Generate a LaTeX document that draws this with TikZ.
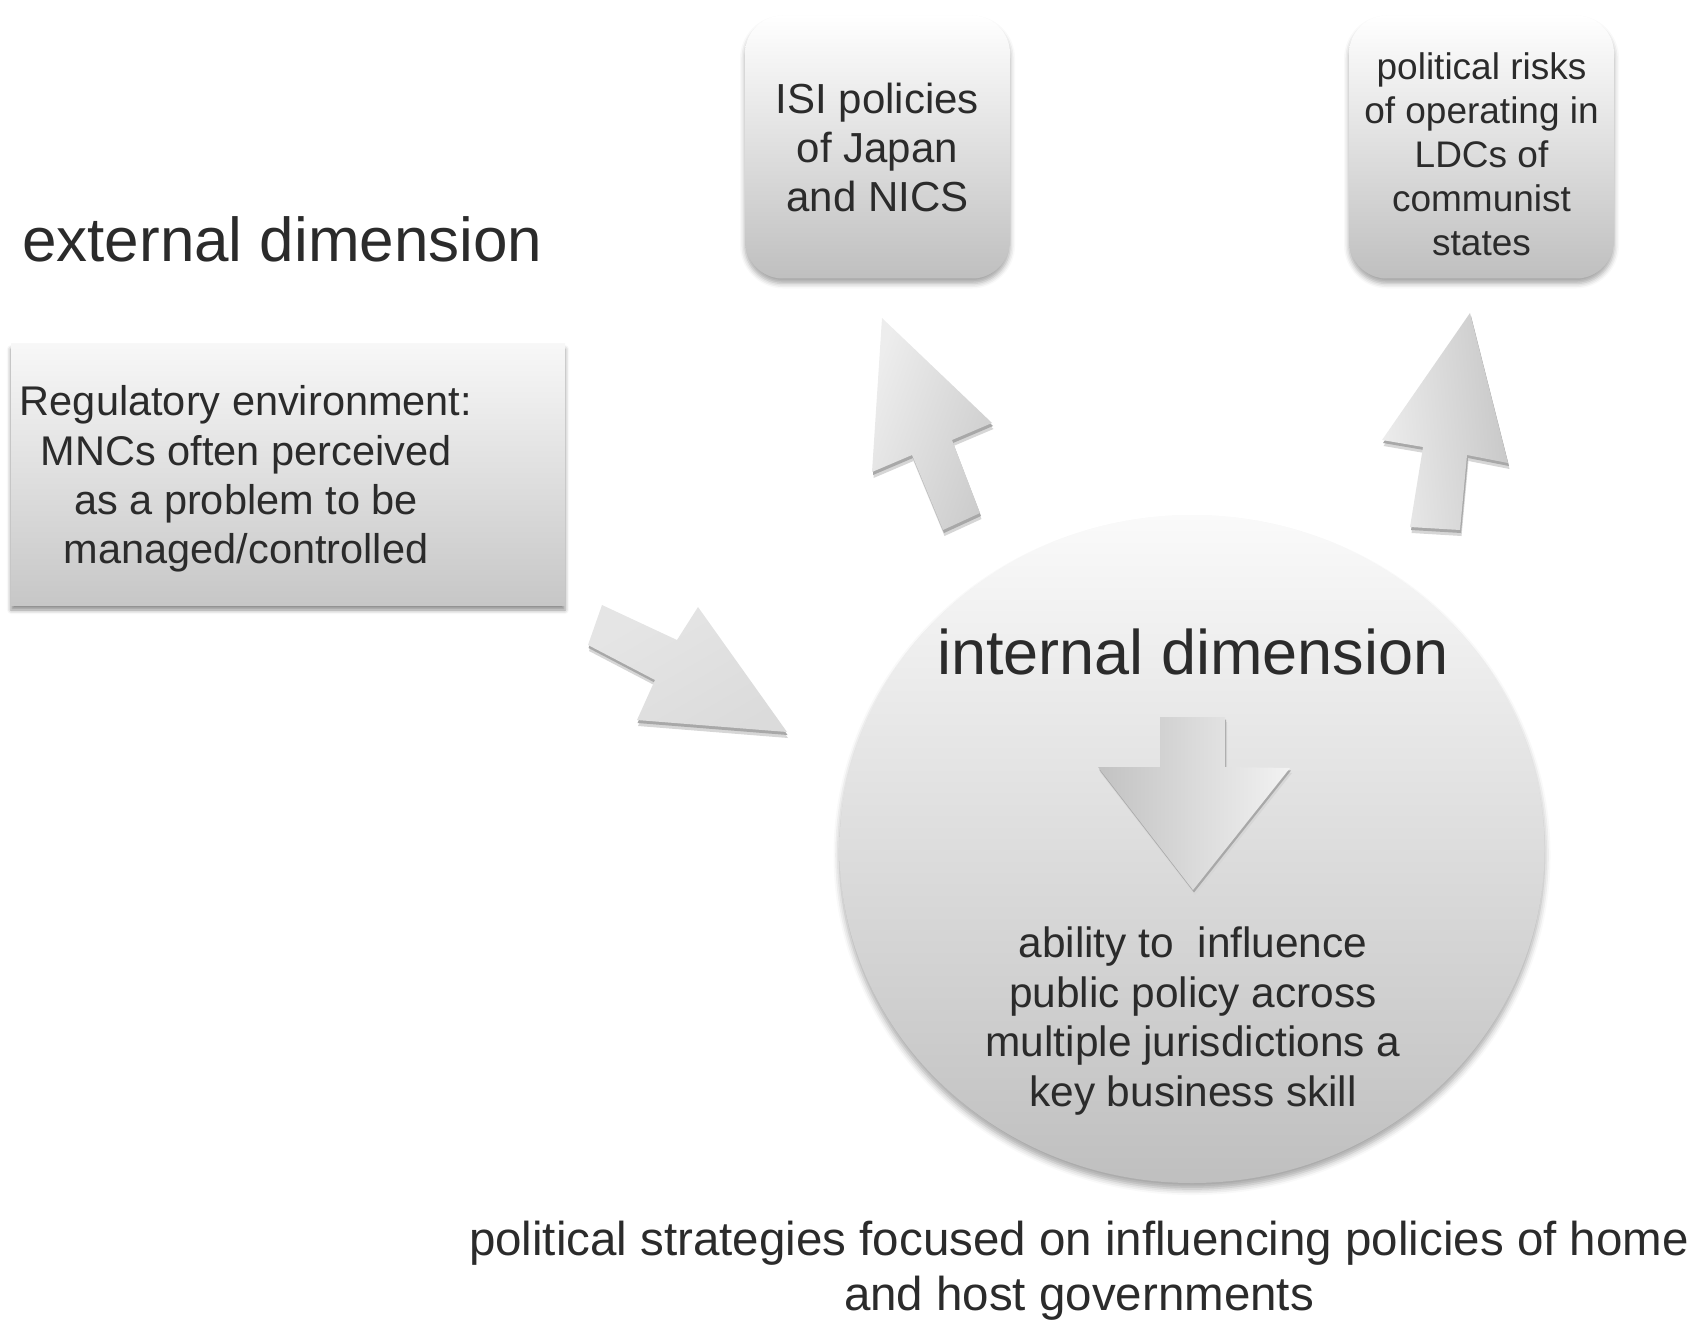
\documentclass[tikz,border=0pt]{standalone}
\usepackage{fontspec}
\setmainfont{Liberation Sans}
\usetikzlibrary{shapes.geometric,shadows,shadows.blur}

\definecolor{ink}{gray}{0.17}

\begin{document}
\begin{tikzpicture}[x=1pt,y=-1pt,
  label/.style={text=ink, align=center, inner sep=0pt},
  card/.style={rounded corners=38pt, top color=white, bottom color=black!25,
    minimum width=265pt, minimum height=263pt, inner sep=0pt, text=ink, align=center,
    blur shadow={shadow xshift=0pt, shadow yshift=-5pt, shadow blur radius=5pt, shadow opacity=35}},
  slab/.style={top color=black!3, bottom color=black!22,
    blur shadow={shadow xshift=0pt, shadow yshift=-5pt, shadow blur radius=4pt, shadow opacity=45}},
  disc/.style={ellipse, top color=black!2, bottom color=black!25, inner sep=0pt,
    blur shadow={shadow xshift=0pt, shadow yshift=-6pt, shadow blur radius=6pt, shadow opacity=35}},
  rimfar/.style={fill=black!16},
  rimnear/.style={fill=black!34},
]
\useasboundingbox (0,0) rectangle (1694,1321);

% outer context
\node[label, anchor=base west, font=\fontsize{62}{74}\selectfont] (ext) at (22,262) {external dimension};

\node[slab, draw=none, minimum width=554pt, minimum height=261pt, inner sep=0pt] (reg) at (288,474.5) {};
\node[label, font=\fontsize{41.5}{49.4}\selectfont] (regtext) at (246,479)
  {Regulatory environment:\\MNCs often perceived\\as a problem to be\\managed/controlled};

\node[card, font=\fontsize{42}{49}\selectfont] (isi) at (877.5,147)
  {ISI policies\\of Japan\\and NICS};
\node[card, minimum height=263pt] (risk) at (1481.5,147) {};
\node[label, font=\fontsize{37}{44}\selectfont] (risktext) at (1481.5,154)
  {political risks\\of operating in\\LDCs of\\communist\\states};

% internal dimension
\node[disc, minimum width=705pt, minimum height=668pt] (core) at (1192,849) {};
\node[label, anchor=base, font=\fontsize{63}{75}\selectfont] (int) at (1193,674) {internal dimension};
\node[label, font=\fontsize{42.4}{49.7}\selectfont] (skill) at (1193,1021)
  {ability to~ influence\\public policy across\\multiple jurisdictions a\\key business skill};

\node[label, font=\fontsize{47.5}{55}\selectfont] (strat) at (1079,1271)
  {political strategies focused on influencing policies of home\\and host governments};

% block arrows: rim layers first, then the shaded face
% towards ISI box
\fill[rimfar, shift={(1.5,6)}] (882,318) -- (992,423) -- (952,440) -- (980,513) -- (943,530) -- (912,455) -- (872,472) -- cycle;
\fill[rimnear, shift={(1,3)}] (882,318) -- (992,423) -- (952,440) -- (980,513) -- (943,530) -- (912,455) -- (872,472) -- cycle;
\shade[left color=black!7, right color=black!20, shading angle=70]
  (882,318) -- (992,423) -- (952,440) -- (980,513) -- (943,530) -- (912,455) -- (872,472) -- cycle;

% towards political risks box
\fill[rimfar, shift={(1.5,6)}] (1470,313) -- (1508,463) -- (1467,455) -- (1460,530) -- (1410,527) -- (1423,447) -- (1382,440) -- cycle;
\fill[rimnear, shift={(1,3)}] (1470,313) -- (1508,463) -- (1467,455) -- (1460,530) -- (1410,527) -- (1423,447) -- (1382,440) -- cycle;
\shade[left color=black!7, right color=black!22, shading angle=95]
  (1470,313) -- (1508,463) -- (1467,455) -- (1460,530) -- (1410,527) -- (1423,447) -- (1382,440) -- cycle;

% from regulatory box into the core
\fill[rimfar, shift={(1,6)}] (602,605) -- (677,640) -- (698,607) -- (787,732) -- (637,720) -- (655,680) -- (588,645) -- cycle;
\fill[rimnear, shift={(0.5,3)}] (602,605) -- (677,640) -- (698,607) -- (787,732) -- (637,720) -- (655,680) -- (588,645) -- cycle;
\shade[left color=black!10, right color=black!14, shading angle=30]
  (602,605) -- (677,640) -- (698,607) -- (787,732) -- (637,720) -- (655,680) -- (588,645) -- cycle;

% inside the core, pointing down to the skill text
\fill[rimfar, shift={(2,5)}] (1160,717) -- (1225,717) -- (1225,767) -- (1290,768) -- (1193,890) -- (1098,767) -- (1160,767) -- cycle;
\fill[rimnear, shift={(1,2.5)}] (1160,717) -- (1225,717) -- (1225,767) -- (1290,768) -- (1193,890) -- (1098,767) -- (1160,767) -- cycle;
\shade[left color=black!24, right color=black!5]
  (1160,717) -- (1225,717) -- (1225,767) -- (1290,768) -- (1193,890) -- (1098,767) -- (1160,767) -- cycle;

\end{tikzpicture}
\end{document}
